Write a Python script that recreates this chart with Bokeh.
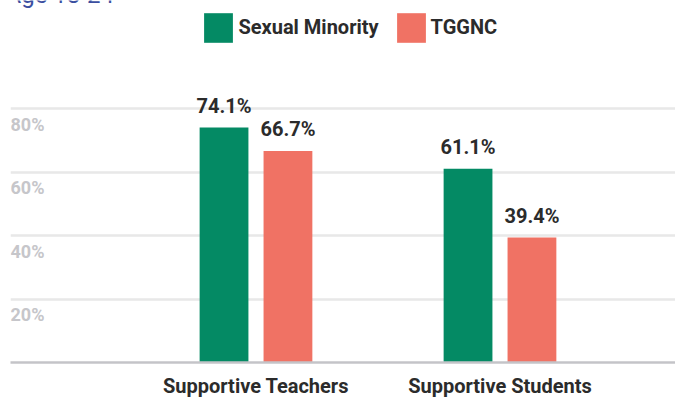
from bokeh.plotting import figure
from bokeh.models import (ColumnDataSource, Range1d, FixedTicker, LabelSet, Label, Legend, LegendItem)
from bokeh.transform import dodge
from bokeh.core.properties import value
from bokeh.embed import file_html
from bokeh.resources import INLINE

title_text = "Age 18-24"
categories = ["Supportive Teachers", "Supportive Students"]
series_names = ["Sexual Minority", "TGGNC"]
sexual_minority = [74.1, 61.1]
tggnc = [66.7, 39.4]
tick_values = [20, 40, 60, 80]
tick_labels = ["20%", "40%", "60%", "80%"]

GREEN = "#048a64"
RED = "#f07264"
FONT = "Roboto"
DARK = "#2b2b2b"

idx = list(range(len(categories)))
src = ColumnDataSource(dict(
    x=idx,
    sm=sexual_minority,
    tg=tggnc,
    sm_lab=[f"{v:.1f}%" for v in sexual_minority],
    tg_lab=[f"{v:.1f}%" for v in tggnc],
))

p = figure(width=675, height=400, output_backend="svg", toolbar_location=None,
           x_range=Range1d(-1.0061, 1.7193), y_range=Range1d(0, 114.2),
           min_border_left=10, min_border_right=0, min_border_top=0, min_border_bottom=34)
p.outline_line_color = None
p.yaxis.visible = False

g1 = p.vbar(x=dodge("x", -0.131, range=p.x_range), top="sm", width=0.2, source=src,
            fill_color=GREEN, line_color=None)
g2 = p.vbar(x=dodge("x", 0.131, range=p.x_range), top="tg", width=0.2, source=src,
            fill_color=RED, line_color=None)

for col, lab, off in [("sm", "sm_lab", -0.131), ("tg", "tg_lab", 0.131)]:
    ls = LabelSet(x=dodge("x", off, range=p.x_range), y=col, text=lab, source=src,
                  text_align="center", text_baseline="alphabetic", y_offset=15,
                  text_font=value(FONT), text_font_size="20px", text_font_style="bold",
                  text_color=DARK)
    p.add_layout(ls)

# grid
p.xgrid.visible = False
p.ygrid.ticker = FixedTicker(ticks=tick_values)
p.ygrid.grid_line_color = "#e8e8e8"
p.ygrid.grid_line_width = 2.5

# y tick labels drawn inside the plot
tsrc = ColumnDataSource(dict(y=tick_values, t=tick_labels, x=[p.x_range.start] * len(tick_values)))
p.add_layout(LabelSet(x="x", y="y", text="t", source=tsrc, text_align="left",
                      text_baseline="alphabetic", y_offset=-22,
                      text_font=value(FONT), text_font_size="18px", text_font_style="bold",
                      text_color="#c6c6ca"))

# x axis
p.xaxis.ticker = FixedTicker(ticks=idx)
p.xaxis.major_label_overrides = {i: c for i, c in zip(idx, categories)}
p.xaxis.major_tick_line_color = None
p.xaxis.minor_tick_line_color = None
p.xaxis.axis_line_color = "#c4c4c8"
p.xaxis.axis_line_width = 2.5
p.xaxis.major_label_standoff = 5
p.xaxis.major_label_text_font = FONT
p.xaxis.major_label_text_font_size = "20px"
p.xaxis.major_label_text_font_style = "bold"
p.xaxis.major_label_text_color = DARK

legend = Legend(items=[LegendItem(label=series_names[0], renderers=[g1]),
                       LegendItem(label=series_names[1], renderers=[g2])],
                orientation="horizontal", location=(190.4, 316.5),
                glyph_width=36, glyph_height=37, label_standoff=2, spacing=14,
                padding=0, margin=0, border_line_color=None, background_fill_alpha=0,
                label_text_font=FONT, label_text_font_size="20px",
                label_text_font_style="bold", label_text_color=DARK)
p.add_layout(legend, "center")

# title, cut off at the top edge as in the reference
p.add_layout(Label(x=-5, y=368, x_units="screen", y_units="screen", text=title_text,
                   text_baseline="alphabetic", text_font=FONT, text_font_size="24px",
                   text_color="#3b4ea0"))

open("out.html", "w").write(file_html(p, INLINE))
